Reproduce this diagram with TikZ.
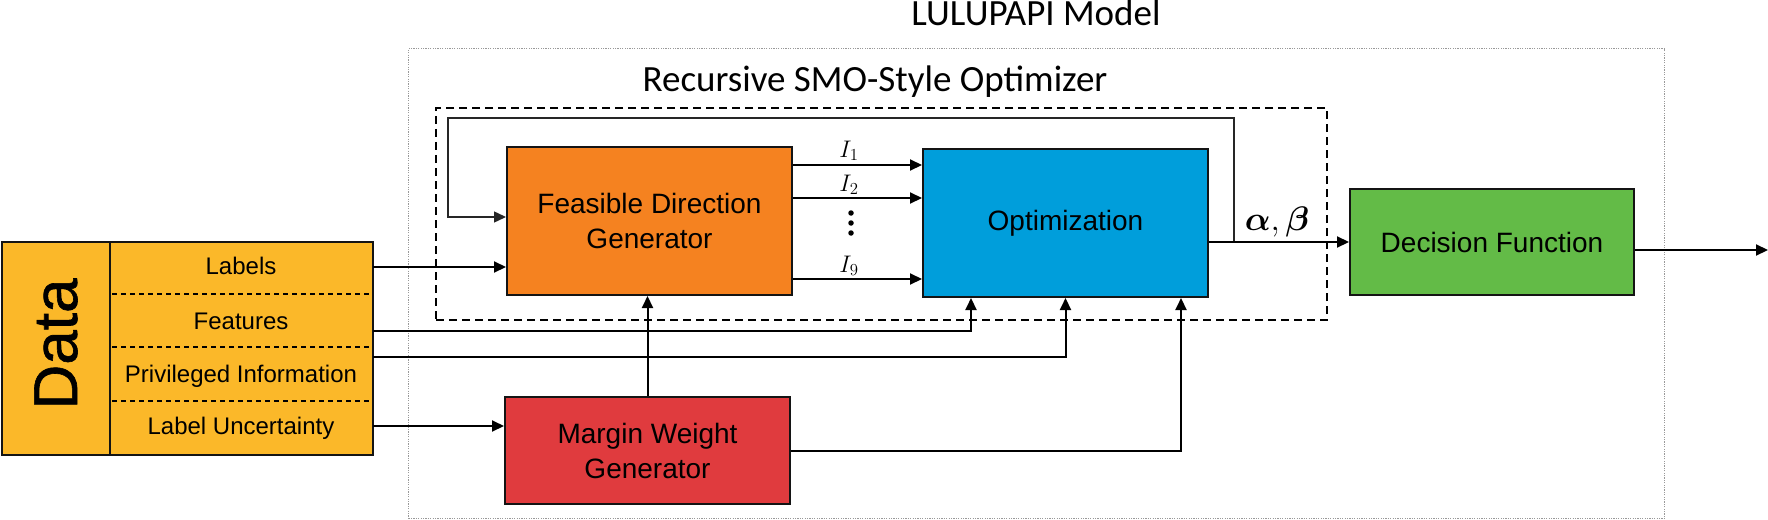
\RequirePackage{fix-cm}
\documentclass[tikz,border=0pt]{standalone}
\usepackage{fontspec}
\setmainfont{Liberation Sans}
\newfontfamily\calib{Carlito}
\newfontfamily\heavysans[FakeBold=1]{Liberation Sans}
\usepackage{bm}
\usetikzlibrary{arrows.meta,calc}
\definecolor{cdata}{RGB}{251,184,41}
\definecolor{cfdg}{RGB}{245,130,32}
\definecolor{copt}{RGB}{0,158,219}
\definecolor{cmwg}{RGB}{224,59,62}
\definecolor{cdec}{RGB}{99,187,71}
\definecolor{cline}{RGB}{20,20,20}
\begin{document}
\begin{tikzpicture}[x=1pt,y=-1pt,
  box/.style={draw=cline, line width=2pt, inner sep=0pt, align=center, anchor=north west,
    font=\fontsize{28}{35}\selectfont},
  rowtxt/.style={font=\fontsize{24}{28}\selectfont, inner sep=0pt},
  rowdash/.style={line width=1.2pt, dash pattern=on 5pt off 4pt},
  arr/.style={line width=2pt, draw=black, -{Triangle[length=12pt,width=11pt]}},
  fbarr/.style={line width=1.4pt, draw=black!85, -{Triangle[length=12pt,width=11pt]}},
  outerbox/.style={draw=black!40, line width=1.2pt, dash pattern=on 1.2pt off 1.2pt, anchor=north west, inner sep=0pt},
  dashbox/.style={draw=black, line width=2pt, dash pattern=on 8pt off 5pt, anchor=north west, inner sep=0pt},
  title/.style={font=\calib\fontsize{37}{40}\selectfont, inner sep=0pt, anchor=base},
  ilab/.style={font=\fontsize{24}{26}\selectfont, inner sep=0pt, anchor=base},
  dot/.style={circle, fill=black, inner sep=0pt, minimum size=5.5pt}
]
\useasboundingbox (0,0) rectangle (1768,519);

% frames
\node[outerbox, minimum width=1256pt, minimum height=470pt] (model) at (408,48) {};
\node[dashbox, minimum width=891pt, minimum height=212pt] (rec) at (435,107) {};
\node[title] (tmodel) at (1036,26) {LULUPAPI Model};
\node[title] (trec) at (875,91) {Recursive SMO-Style Optimizer};

% boxes
\node[box, fill=cdata, minimum width=371pt, minimum height=213pt] (data) at (1,241) {};
\node[box, fill=cfdg, minimum width=285pt, minimum height=148pt] (fdg) at (506,146) {Feasible Direction\\Generator};
\node[box, fill=copt, minimum width=285pt, minimum height=148pt] (opt) at (922,148) {Optimization};
\node[box, fill=cmwg, minimum width=285pt, minimum height=107pt] (mwg) at (504,396) {Margin Weight\\Generator};
\node[box, fill=cdec, minimum width=284pt, minimum height=106pt] (dec) at (1349,188) {Decision Function};

% data block internals
\draw[line width=1.5pt, cline] (110,241) -- (110,454);
\draw[rowdash] (112,294) -- (371,294);
\draw[rowdash] (112,347) -- (371,347);
\draw[rowdash] (112,401) -- (371,401);
\node[rotate=90, font=\heavysans\fontsize{62}{62}\selectfont, inner sep=0pt] (dtitle) at (56,344) {Data};
\node[rowtxt] (rlab) at (241,266) {Labels};
\node[rowtxt] (rfea) at (241,321) {Features};
\node[rowtxt] (rpri) at (241,376) {Privileged Information};
\node[rowtxt] (rlu) at (241,428) {Label Uncertainty};

\coordinate (dLab) at (373,267);
\coordinate (dFea) at (373,331);
\coordinate (dPri) at (373,357);
\coordinate (dLU) at (373,426);

% data connectors
\draw[arr] (dLab) -- (dLab -| fdg.west);
\draw[arr] (dFea) -| ([xshift=-94.5pt]opt.south);
\draw[arr] (dPri) -| (opt.south);
\draw[arr] (dLU) -- (dLU -| mwg.west);

% margin weight generator connectors
\draw[arr] (mwg.north) -- (mwg.north |- fdg.south);
\draw[arr] (mwg.east) -| ([xshift=115.5pt]opt.south);

% I arrows
\draw[arr] ([yshift=56pt]fdg.east) -- ([yshift=56pt]fdg.east -| opt.west);
\draw[arr] ([yshift=23pt]fdg.east) -- ([yshift=23pt]fdg.east -| opt.west);
\draw[arr] ([yshift=-58pt]fdg.east) -- ([yshift=-58pt]fdg.east -| opt.west);
\node[ilab] (i1) at (849,157) {$I_1$};
\node[ilab] (i2) at (849,191) {$I_2$};
\node[ilab] (i9) at (849,272) {$I_9$};
\node[dot] (d1) at (851,213) {};
\node[dot] (d2) at (851,223) {};
\node[dot] (d3) at (851,233) {};

% optimization output and feedback
\coordinate (fbA) at (1234,241);
\coordinate (fbL) at (448,118);
\draw[fbarr] (fbA) |- (fbL) |- ([yshift=4pt]fdg.west);
\draw[arr] (opt.east |- dec.west) -- (dec.west);
\node[font=\fontsize{34}{36}\selectfont, inner sep=0pt] (ab) at (1277,222) {$\bm{\alpha},\bm{\beta}$};

% decision output
\coordinate (out) at (1768,250);
\draw[arr] (dec.east |- out) -- (out);
\end{tikzpicture}
\end{document}
